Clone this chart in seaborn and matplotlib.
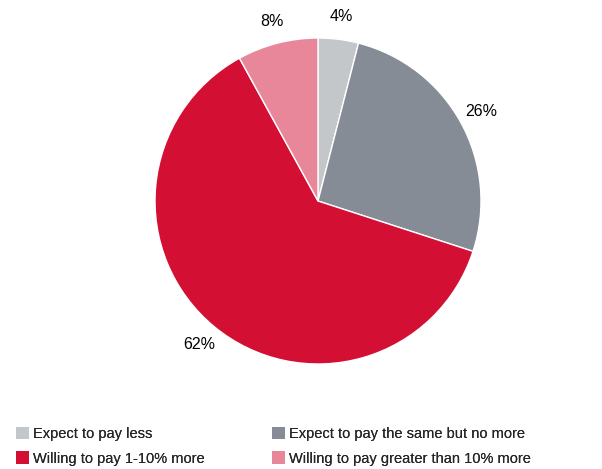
import matplotlib
matplotlib.use("Agg")
import matplotlib.pyplot as plt
from matplotlib.patches import Patch
import seaborn as sns

categories = [
    "Expect to pay less",
    "Expect to pay the same but no more",
    "Willing to pay 1-10% more",
    "Willing to pay greater than 10% more",
]
shares = [4, 26, 62, 8]
colors = ["#C3C7CA", "#858C95", "#D31034", "#E8879A"]

sns.set_theme(style="white")
plt.rcParams["font.family"] = ["Liberation Sans", "DejaVu Sans"]

fig = plt.figure(figsize=(6.02, 4.69), dpi=100)
W, H = 602, 469
ax = fig.add_axes([118 / W, 68 / H, 400 / W, 400 / H])
R = 163
half = 200 / R

wedges, texts, autotexts = ax.pie(
    shares,
    colors=colors,
    startangle=90,
    counterclock=False,
    autopct="%d%%",
    pctdistance=1.14,
    wedgeprops=dict(edgecolor="white", linewidth=1),
    textprops=dict(fontsize=11.5, color="black"),
)
ax.set_xlim(-half, half)
ax.set_ylim(-half, half)
ax.set_aspect("equal")
ax.axis("off")

# two legend columns: left holds entries 0 and 2, right holds 1 and 3
handles = [Patch(facecolor=c, edgecolor="none") for c in colors]
for col, x0 in ((0, 10), (1, 266)):
    idx = [col, col + 2]
    leg = fig.legend(
        [handles[i] for i in idx],
        [categories[i] for i in idx],
        loc="upper left",
        bbox_to_anchor=(x0 / W, 1 - 421 / H),
        frameon=False,
        fontsize=10.5,
        handlelength=0.9,
        handleheight=0.9,
        handletextpad=0.3,
        labelspacing=0.72,
        borderaxespad=0,
    )
    fig.add_artist(leg)

fig.savefig("out.png", dpi=100)
